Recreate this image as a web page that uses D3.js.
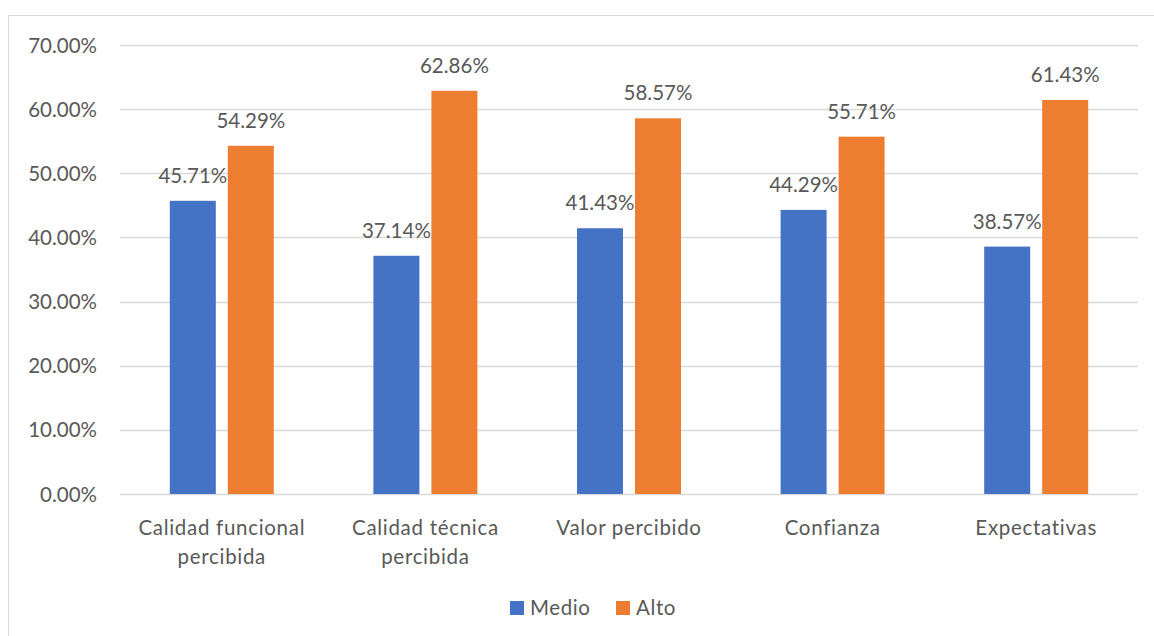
<!DOCTYPE html>
<html><head><meta charset="utf-8">
<script src="https://cdn.jsdelivr.net/npm/d3@7"></script>
<style>body{margin:0;background:#fff;} text{font-family:Lato,"Noto Sans",sans-serif;fill:#595959;}</style>
</head><body>
<svg id="c" width="1154" height="636"></svg>
<script>
const categories = ["Calidad funcional percibida","Calidad técnica percibida","Valor percibido","Confianza","Expectativas"];
const seriesNames = ["Medio","Alto"];
const medio = [45.71,37.14,41.43,44.29,38.57];
const alto = [54.29,62.86,58.57,55.71,61.43];
const yTicks = [0,10,20,30,40,50,60,70];
const colors = ["#4472C4","#ED7D31"];

const svg = d3.select("#c");
svg.append("rect").attr("x",8.5).attr("y",15.5).attr("width",1160).attr("height",640)
  .attr("fill","none").attr("stroke","#d9d9d9");

const y = d3.scaleLinear().domain([0,70]).range([494,45]);
const x0 = d3.scaleBand().domain(categories).range([120,1138]);
const x1 = d3.scaleBand().domain(seriesNames).range([0,104]).paddingInner(0.207);

// grid
svg.append("g").selectAll("line").data(yTicks).join("line")
  .attr("x1",120).attr("x2",1138).attr("y1",d=>Math.round(y(d))+0.5).attr("y2",d=>Math.round(y(d))+0.5)
  .attr("stroke","#d9d9d9").attr("stroke-width",1.3);
svg.append("g").selectAll("text").data(yTicks).join("text")
  .attr("x",97).attr("y",d=>y(d)+7.5).attr("text-anchor","end").attr("font-size",20.5)
  .text(d=>d.toFixed(2)+"%");

const data = categories.map((c,i)=>({c, vals:[medio[i],alto[i]]}));
const g = svg.append("g").selectAll("g").data(data).join("g")
  .attr("transform",d=>`translate(${x0(d.c)+x0.bandwidth()/2-52},0)`);
g.selectAll("rect").data(d=>d.vals.map((v,j)=>({v,s:seriesNames[j],j}))).join("rect")
  .attr("x",d=>x1(d.s)).attr("width",x1.bandwidth())
  .attr("y",d=>y(d.v)).attr("height",d=>y(0)-y(d.v)).attr("fill",d=>colors[d.j]);
g.selectAll("text.lbl").data(d=>d.vals.map((v,j)=>({v,s:seriesNames[j],j}))).join("text")
  .attr("class","lbl").attr("x",d=>x1(d.s)+x1.bandwidth()/2).attr("y",d=>y(d.v)-18)
  .attr("text-anchor","middle").attr("font-size",20.5).text(d=>d.v.toFixed(2)+"%");

// category labels with wrap
svg.append("g").selectAll("text").data(categories).join("text")
  .attr("text-anchor","middle").attr("font-size",20.5).attr("letter-spacing",0.7)
  .each(function(d){
    const words = d.split(" ");
    let lines = [];
    if (words.length>2) { lines=[words.slice(0,-1).join(" "), words[words.length-1]]; }
    else lines=[d];
    const cx = x0(d)+x0.bandwidth()/2;
    lines.forEach((l,k)=>d3.select(this).append("tspan").attr("x",cx).attr("y",535+k*29).text(l));
  });

// legend
const leg = svg.append("g");
const legX = [510,616];
seriesNames.forEach((s,i)=>{
  leg.append("rect").attr("x",legX[i]).attr("y",601).attr("width",14).attr("height",14).attr("fill",colors[i]);
  leg.append("text").attr("x",legX[i]+20).attr("y",615).attr("font-size",20.5).attr("letter-spacing",0.6).text(s);
});
</script>
</body></html>
